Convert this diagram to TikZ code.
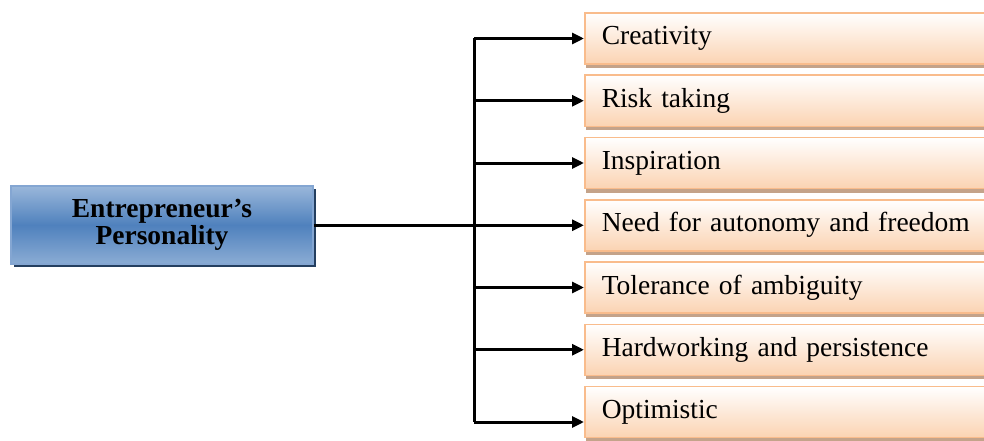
\documentclass[tikz,border=0pt]{standalone}
\usepackage{fontspec}
\setmainfont{Liberation Serif}
\usetikzlibrary{arrows.meta,shadows}

\definecolor{peach}{HTML}{FBD3B2}
\definecolor{peachline}{HTML}{F9BC8C}
\definecolor{peachshadow}{HTML}{C4A38A}
\definecolor{bluetop}{HTML}{9AB7DA}
\definecolor{bluemid}{HTML}{4F81BD}
\definecolor{blueline}{HTML}{84A6D2}
\definecolor{blueshadow}{HTML}{243F60}

\tikzset{
    mainbox/.style={rectangle, draw=blueline, line width=1.5pt,
        top color=bluetop, bottom color=bluetop!80!bluemid, middle color=bluemid,
        minimum width=302pt, minimum height=78pt, align=center,
        font=\fontsize{27.5}{27.5}\selectfont\bfseries,
        drop shadow={shadow xshift=3pt, shadow yshift=-3pt, fill=blueshadow, opacity=1}},
    itembox/.style={rectangle, draw=peachline, line width=1.5pt,
        top color=white, bottom color=peach,
        minimum height=51pt, text width=396pt, inner xsep=17pt, align=left,
        anchor=west, font=\fontsize{27.5}{27.5}\selectfont,
        drop shadow={shadow xshift=1.5pt, shadow yshift=-4pt, fill=peachshadow, opacity=1}},
    link/.style={line width=3pt},
    arrow/.style={link, -{Triangle[length=12pt,width=11pt]}}
}

\begin{document}
\begin{tikzpicture}[x=1pt,y=-1pt]
    \clip (0,0) rectangle (984,441);
    \fill[white] (0,0) rectangle (984,441);

    \node[mainbox] (main) at (162,225) {Entrepreneur's\\Personality};

    % the seven traits
    \foreach \t [count=\i] in {Creativity, Risk taking, Inspiration,
            Need for autonomy and freedom, Tolerance of ambiguity,
            Hardworking and persistence, Optimistic}
        \node[itembox] (b\i) at (584,{38.5+62.25*(\i-1)}) {\t};

    \coordinate (spine) at (474,0);
    \draw[link] (main.east) -- (main.east -| spine);
    \draw[link] (b1.west -| spine) -- ([yshift=-10pt]b7.west -| spine);
    \foreach \i in {1,...,6}
        \draw[arrow] (b\i.west -| spine) -- (b\i.west);
    \draw[arrow] ([yshift=-10pt]b7.west -| spine) -- ([yshift=-10pt]b7.west);
\end{tikzpicture}
\end{document}
